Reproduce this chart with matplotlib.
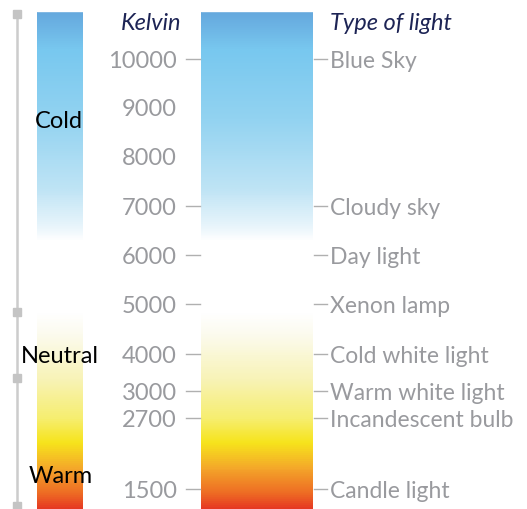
import numpy as np
import matplotlib
matplotlib.use('Agg')
import matplotlib.pyplot as plt
from matplotlib.colors import LinearSegmentedColormap

# chart content
kelvin = ['10000', '9000', '8000', '7000', '6000', '5000', '4000', '3000', '2700', '1500']
light_types = ['Blue Sky', '', '', 'Cloudy sky', 'Day light', 'Xenon lamp',
               'Cold white light', 'Warm white light', 'Incandescent bulb', 'Candle light']
zones = ['Cold', 'Neutral', 'Warm']

# layout (pixel rows on the 527x510 canvas)
row_y = [60, 108, 157, 207, 256, 305, 355, 392, 419, 490]
zone_y = [120, 355, 475]
zone_x = [59, 60, 61]
marker_y = [15, 313, 379, 507]

W, H = 527, 510
fig = plt.figure(figsize=(W / 100, H / 100), dpi=100)
ax = fig.add_axes([0, 0, 1, 1])
ax.set_xlim(0, W)
ax.set_ylim(H, 0)
ax.axis('off')

# colour gradient along the bars
stops = [(0, '#5f9fd8'), (25, '#6cb3e4'), (50, '#78c8ef'), (120, '#93d3f1'),
         (190, '#bfe4f5'), (225, '#e6f4fb'), (242, '#ffffff'),
         (315, '#ffffff'), (335, '#fcfbef'), (380, '#f8f3b8'), (420, '#f6ee70'),
         (445, '#f7e41c'), (470, '#f4a82a'), (495, '#ee6d24'), (510, '#e63a22')]
cmap = LinearSegmentedColormap.from_list(
    'ktemp', [(y / H, c) for y, c in stops])
grad = np.linspace(0, 1, 500).reshape(-1, 1)

top = 12
for x0, x1 in [(37, 83), (201, 313)]:
    ax.imshow(grad, cmap=cmap, aspect='auto', extent=(x0, x1, H, 0),
              vmin=0, vmax=1, zorder=1, interpolation='bilinear')
    # mask above the bar top
    ax.fill_between([x0, x1], 0, top, color='white', zorder=2)

# scale line on the left
ax.plot([17, 17], [12, H], color='#cccccc', lw=1.8, zorder=3)
ax.plot([17] * len(marker_y), marker_y, 's', color='#c4c4c4', ms=6, zorder=4)

gray = '#999a9e'
navy = '#1d2455'
font = 'Lato'
dy = 2  # text sits a little low compared to va='center'

ax.text(151, 21 + dy, 'Kelvin', color=navy, fontsize=17, style='italic',
        ha='center', va='center', family=font)
ax.text(330, 22 + dy, 'Type of light', color=navy, fontsize=17, style='italic',
        ha='left', va='center', family=font)

for k, t, y in zip(kelvin, light_types, row_y):
    ax.text(177, y + dy, k, color=gray, fontsize=17, ha='right', va='center', family=font)
    if t:
        ax.plot([186, 200], [y, y], color='#b0b0b0', lw=1, zorder=3)
        ax.plot([314, 327], [y, y], color='#b0b0b0', lw=1, zorder=3)
        ax.text(330, y + dy, t, color=gray, fontsize=16.5, ha='left', va='center', family=font)

for z, x, y in zip(zones, zone_x, zone_y):
    ax.text(x, y + dy, z, color='black', fontsize=17, ha='center', va='center',
            family=font, zorder=5)

fig.savefig('out.png', dpi=100)
